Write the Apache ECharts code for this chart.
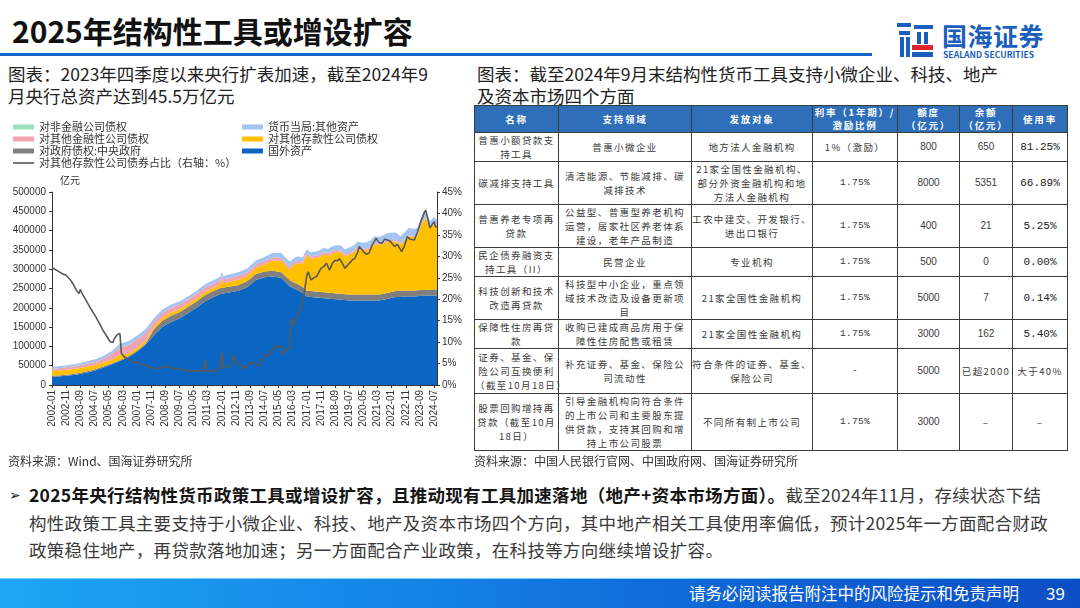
<!DOCTYPE html>
<html><head><meta charset="utf-8">
<script src="https://cdn.jsdelivr.net/npm/echarts@6/dist/echarts.min.js"></script>
<style>
html,body{margin:0;padding:0;width:1080px;height:608px;overflow:hidden;background:#fff;font-family:"Noto Sans CJK SC","Noto Sans",sans-serif;}
.abs{position:absolute;white-space:nowrap;}
#title{left:12px;top:10px;font-size:30px;font-weight:bold;color:#111;line-height:40px;}
#rule{left:0;top:53px;width:872px;height:3px;background:#1565c8;}
#brand{left:942px;top:19px;font-size:25px;font-weight:bold;color:#1b5fbe;line-height:32px;letter-spacing:0.5px;}
#brand2{left:943px;top:49px;font-size:8.6px;font-weight:bold;color:#1b5fbe;line-height:10px;}
.sub{font-size:17.5px;color:#222;line-height:22px;}
#subL{left:8px;top:63px;}
#subR{left:477px;top:63px;}
.src{font-size:12px;color:#333;line-height:16px;}
#chart{position:absolute;left:0;top:110px;width:470px;height:350px;}
table{position:absolute;left:474px;top:105px;border-collapse:collapse;table-layout:fixed;width:593px;}
td,th{border:1px solid #3c3c3c;padding:0;text-align:center;vertical-align:middle;white-space:pre;overflow:visible;font-size:9.5px;line-height:14px;letter-spacing:1.4px;color:#3a3a3a;font-weight:normal;}
th{background:#2f6fba;color:#fff;font-weight:bold;line-height:13px;letter-spacing:1.8px;}
td.num{font-family:"Liberation Sans",Arial,sans-serif;font-size:10px;letter-spacing:0;}
td.mono{font-family:"Liberation Mono",monospace;font-size:9.5px;letter-spacing:0.3px;}
td.use{font-family:"Liberation Mono",monospace;font-size:11px;letter-spacing:0;color:#222;}
#para{left:29px;top:481px;font-size:17.5px;line-height:27.5px;color:#3a3a3a;letter-spacing:0.3px;}
#para b{color:#151515;}
#bullet{left:9px;top:484px;font-size:14px;color:#222;}
#footer{left:0;top:578px;width:1080px;height:30px;background:linear-gradient(90deg,#1ea6f3 0%,#1487e8 35%,#0f63d4 70%,#0c4fc4 100%);border-top:1px solid #7fd0ff;}
#foot1{left:689px;top:582px;font-size:16.5px;color:#fff;line-height:22px;}
#foot2{left:1046px;top:582px;font-size:17px;color:#fff;line-height:22px;}
</style></head>
<body>
<div class="abs" id="title">2025年结构性工具或增设扩容</div>
<div class="abs" id="rule"></div>
<svg class="abs" style="left:897px;top:22px" width="38" height="36" viewBox="0 0 38 36">
  <rect x="0" y="1" width="14" height="4" fill="#1b5fbe"/>
  <rect x="17" y="3" width="19" height="4" fill="#1b5fbe"/>
  <rect x="2" y="9" width="11" height="4" fill="#1b5fbe"/>
  <rect x="3" y="15" width="4" height="20" fill="#1b5fbe"/>
  <rect x="9" y="15" width="4" height="20" fill="#1b5fbe"/>
  <rect x="20" y="10" width="4" height="12" fill="#1b5fbe"/>
  <rect x="27" y="10" width="4" height="12" fill="#1b5fbe"/>
  <rect x="15" y="23" width="21" height="5" fill="#e0262b"/>
  <rect x="15" y="30" width="21" height="5" fill="#1b5fbe"/>
</svg>
<div class="abs" id="brand">国海证券</div>
<div class="abs" id="brand2">SEALAND SECURITIES</div>
<div class="abs sub" id="subL">图表：2023年四季度以来央行扩表加速，截至2024年9<br>月央行总资产达到45.5万亿元</div>
<div class="abs sub" id="subR">图表：截至2024年9月末结构性货币工具支持小微企业、科技、地产<br>及资本市场四个方面</div>
<div id="chart"></div>
<div class="abs src" style="left:8px;top:453px;">资料来源：Wind、国海证券研究所</div>
<table id="tbl"></table>
<div class="abs src" style="left:474px;top:453px;">资料来源：中国人民银行官网、中国政府网、国海证券研究所</div>
<div class="abs" id="bullet">➢</div>
<div class="abs" id="para"><b>2025年央行结构性货币政策工具或增设扩容，且推动现有工具加速落地（地产+资本市场方面）。</b>截至2024年11月，存续状态下结<br>构性政策工具主要支持于小微企业、科技、地产及资本市场四个方向，其中地产相关工具使用率偏低，预计2025年一方面配合财政<br>政策稳住地产，再贷款落地加速；另一方面配合产业政策，在科技等方向继续增设扩容。</div>
<div class="abs" id="footer"></div>
<div class="abs" id="foot1">请务必阅读报告附注中的风险提示和免责声明</div>
<div class="abs" id="foot2">39</div>
<script>
// ---------- chart data (亿元), x = month index from 2002-01 ----------
const tickLabels = ['2002-01','2002-11','2003-09','2004-07','2005-05','2006-03','2007-01','2007-11','2008-09','2009-07','2010-05','2011-03','2012-01','2012-11','2013-09','2014-07','2015-05','2016-03','2017-01','2017-11','2018-09','2019-07','2020-05','2021-03','2022-01','2022-11','2023-09','2024-07'];
const monthIdx = [0,6,12,18,24,30,36,42,48,54,60,66,72,78,84,90,96,102,108,114,119,120,121,126,132,138,144,150,156,162,168,171,174,177,180,183,186,189,192,195,198,201,204,207,210,213,216,219,222,225,228,231,234,237,240,243,246,249,252,255,258,261,264,267,270,272];
const foreignAssets = [21000,22500,24500,27500,32000,37000,45000,53000,62000,72000,86000,104000,128000,150000,163000,172000,186000,200000,216000,228000,236000,237000,237000,240000,244000,254000,272000,279000,281000,277000,256000,250000,245000,239000,229000,228000,227000,226000,225000,224000,223000,222000,221000,220000,219000,219000,219000,219000,219000,219000,219000,219000,221000,223000,226000,228000,228000,229000,229000,229000,230000,231000,231000,232000,232000,232000];
const govClaims = [2900,2900,2900,2900,2900,2900,2900,2900,2900,2900,2900,2900,16300,16300,16300,16300,16300,16300,16300,15300,15300,15300,15300,15300,15300,15300,15300,15300,15300,15300,15300,15300,15300,15300,15300,15300,15300,15300,15300,15300,15300,15300,15300,15300,15300,15300,15300,15300,15300,15300,15300,15300,15300,15300,15300,15300,15300,15300,15300,15300,15300,15300,15300,15300,15300,15300];
const odcClaims = [12300,12600,12900,12100,12200,11200,10200,9100,12500,7000,6800,7000,6800,8000,8700,8200,7500,7900,8800,8800,9800,22800,11000,12300,13900,13200,15900,18200,26400,29700,27400,46200,56000,59000,91000,83300,86500,89600,97900,95800,103200,106700,107700,97900,103700,108000,119000,114500,115000,119700,131200,127500,130000,132500,130000,128600,121000,129400,141200,139400,139300,170200,186500,159600,169500,163500];
const ofcClaims = [5500,6000,6500,7000,7500,8000,9000,15000,20500,22000,22000,20000,13000,12500,12000,11800,11600,11400,11300,11000,10700,10700,10700,10400,10000,9500,8900,8300,7800,7200,6600,6500,6500,6500,6300,6300,6300,6300,6000,6000,6000,6000,4700,4700,4700,4700,4700,4600,4600,4600,4600,4600,4400,4400,4400,4400,2100,2100,2100,2100,2100,2000,2000,2000,2000,2000];
const nfcClaims = [150,150,150,150,150,150,150,150,150,150,150,150,50,50,50,50,50,50,50,50,50,50,50,50,50,50,50,50,50,50,50,50,50,50,50,50,50,50,50,50,50,50,50,50,50,50,50,50,50,50,50,50,50,50,50,50,50,50,50,50,50,50,50,50,50,50];
const otherAssets = [4500,4800,5000,5500,6000,6500,7000,7500,8500,9500,10000,10500,9000,8500,8000,8000,8000,8000,8500,8500,8500,8500,8500,9000,9500,10000,10500,11000,12000,13000,14000,11000,11000,10500,10000,10000,10500,11000,11000,11500,12000,12000,13000,13000,13500,14000,14000,15000,15500,16000,16000,16500,17500,18000,18500,18500,19000,19000,19000,19000,18500,17000,16500,16000,16000,16000];
// ratio line: [month index, %]
const odcShare = [[0,27.4],[2,27],[4,26.6],[7,26],[10,25.6],[13,24.5],[15,23.5],[17,22.2],[19,21.3],[20,22.3],[21,21.5],[24,19.8],[27,18],[31,15.9],[34,14],[36,12.8],[39,11.2],[41,10.1],[43,9.9],[44,10.8],[46,11.7],[48,12],[49,7.4],[51,6.6],[53,6.2],[56,5.6],[58,5.4],[62,5],[65,4.7],[69,4.2],[72,3.9],[74,3.8],[76,4],[78,4.2],[81,4.3],[84,4.1],[86,3.7],[88,3.9],[90,3.8],[93,3.5],[95,3.3],[100,3.3],[104,3.3],[107,3.3],[108,5.8],[109,3.3],[112,3.3],[116,3.3],[118,3.6],[119,3.5],[120,7.8],[121,3.9],[124,4.4],[126,4.3],[128,7],[130,5.5],[133,4.7],[136,3.9],[139,4.6],[141,5.4],[144,4.9],[146,4.4],[148,5.8],[150,7],[153,6.8],[155,7.8],[158,9.3],[160,8.8],[162,9],[163,7],[165,8.2],[168,8.5],[169,15.5],[171,14],[173,16],[175,17],[176,16.7],[178,21],[180,25.5],[181,26.4],[183,24.5],[185,25],[187,25.3],[188,25.6],[190,27.2],[192,27.6],[194,28.4],[196,26.8],[198,28.3],[200,29.1],[202,29],[203,29.5],[205,28.5],[207,27.2],[209,28],[212,29.1],[214,29.6],[216,31],[217,32.3],[219,31.6],[220,31.1],[222,30.5],[224,30.7],[226,32.5],[229,34.2],[231,33.2],[233,33],[235,34],[237,33.8],[239,33.5],[242,32.3],[244,32.8],[247,31.1],[249,32.4],[251,34.6],[253,34],[256,33.8],[258,35.5],[261,38.5],[263,40.2],[264,40.8],[265,39.5],[267,36.6],[268,37],[270,38.1],[271,36.8],[272,37]];

// ---------- table data ----------
const tblHeader = ['名称','支持领域','发放对象','利率（1年期）/\n激励比例','额度\n（亿元）','余额\n（亿元）','使用率'];
const toolNames = ['普惠小额贷款支\n持工具','碳减排支持工具','普惠养老专项再\n贷款','民企债券融资支\n持工具（II）','科技创新和技术\n改造再贷款','保障性住房再贷\n款','证券、基金、保\n险公司互换便利\n（截至10月18日）','股票回购增持再\n贷款（截至10月\n18日）'];
const supportFields = ['普惠小微企业','清洁能源、节能减排、碳\n减排技术','公益型、普惠型养老机构\n运营，居家社区养老体系\n建设，老年产品制造','民营企业','科技型中小企业，重点领\n域技术改造及设备更新项\n目','收购已建成商品房用于保\n障性住房配售或租赁','补充证券、基金、保险公\n司流动性','引导金融机构向符合条件\n的上市公司和主要股东提\n供贷款，支持其回购和增\n持上市公司股票'];
const targets = ['地方法人金融机构','21家全国性金融机构、\n部分外资金融机构和地\n方法人金融机构','工农中建交、开发银行、\n进出口银行','专业机构','21家全国性金融机构','21家全国性金融机构','符合条件的证券、基金、\n保险公司','不同所有制上市公司'];
const rates = ['1%（激励）','1.75%','1.75%','1.75%','1.75%','1.75%','-','1.75%'];
const quotas = ['800','8000','400','500','5000','3000','5000','3000'];
const balances = ['650','5351','21','0','7','162','已超2000','–'];
const usageRates = ['81.25%','66.89%','5.25%','0.00%','0.14%','5.40%','大于40%','–'];

// build table
(function(){
  const colW=[84,133,121,85,62,53,55];
  const rowH=[27,28,42,42,26,42,29,45,56];
  const t=document.getElementById('tbl');
  let h='<colgroup>'+colW.map(w=>'<col style="width:'+w+'px">').join('')+'</colgroup>';
  h+='<tr style="height:'+rowH[0]+'px">'+tblHeader.map(s=>'<th>'+s+'</th>').join('')+'</tr>';
  for(let r=0;r<toolNames.length;r++){
    h+='<tr style="height:'+rowH[r+1]+'px">';
    h+='<td>'+toolNames[r]+'</td><td>'+supportFields[r]+'</td><td>'+targets[r]+'</td>';
    h+='<td class="'+(r===0?'':'mono')+'">'+rates[r]+'</td>';
    h+='<td class="num">'+quotas[r]+'</td>';
    h+='<td class="'+(/^[0-9]+$/.test(balances[r])?'num':'')+'">'+balances[r]+'</td>';
    h+='<td class="'+(/%$/.test(usageRates[r])&&/^[0-9]/.test(usageRates[r])?'use':'')+'">'+usageRates[r]+'</td>';
    h+='</tr>';
  }
  t.innerHTML=h;
})();

// ---------- chart ----------
const tickIdx = tickLabels.map(s=>{const p=s.split('-');return (+p[0]-2002)*12+(+p[1]-1);});
const labelOf = {}; tickIdx.forEach((v,k)=>labelOf[v]=tickLabels[k]);
// value first, month second, so the library stacks the value dimension
const pairs = arr => monthIdx.map((x,k)=>[arr[k],x]);
const areaDefs = [
  {name:'国外资产', data:foreignAssets, color:'#0a66c2'},
  {name:'对政府债权:中央政府', data:govClaims, color:'#7f7f7f'},
  {name:'对其他存款性公司债权', data:odcClaims, color:'#ffc000'},
  {name:'对其他金融性公司债权', data:ofcClaims, color:'#f2a3b1'},
  {name:'对非金融公司债权', data:nfcClaims, color:'#9fdfbd'},
  {name:'货币当局:其他资产', data:otherAssets, color:'#a3c3f0'}
];
const series = areaDefs.map(d=>({
  name:d.name, type:'line', stack:'total', data:pairs(d.data), encode:{x:1, y:0},
  showSymbol:false, symbol:'none', lineStyle:{width:0}, itemStyle:{color:d.color},
  areaStyle:{color:d.color, opacity:1}, emphasis:{disabled:true}, silent:true, z:2
}));
series.push({
  name:'对其他存款性公司债券占比（右轴：%）', type:'line', yAxisIndex:1, data:odcShare,
  showSymbol:false, symbol:'none', lineStyle:{width:1.6, color:'#595959'}, itemStyle:{color:'#595959'}, z:5, silent:true
});
const chart = echarts.init(document.getElementById('chart'), null, {renderer:'canvas'});
const lgText = {fontSize:11, lineHeight:12, color:'#333', fontFamily:'Noto Sans CJK SC'};
const axLbl = {fontSize:10, color:'#333', fontFamily:'Liberation Sans, Arial'};
chart.setOption({
  animation:false,
  textStyle:{fontFamily:'Noto Sans CJK SC'},
  legend:[
    {orient:'vertical', left:13, top:11, padding:0, itemGap:0, itemWidth:21, itemHeight:5, icon:'rect', textStyle:lgText, selectedMode:false,
     data:['对非金融公司债权','对其他金融性公司债权','对政府债权:中央政府']},
    {orient:'vertical', left:13, top:47, padding:0, itemGap:0, itemWidth:21, itemHeight:1.6, icon:'rect', textStyle:lgText, selectedMode:false,
     data:['对其他存款性公司债券占比（右轴：%）']},
    {orient:'vertical', left:242, top:11, padding:0, itemGap:0, itemWidth:21, itemHeight:5, icon:'rect', textStyle:lgText, selectedMode:false,
     data:['货币当局:其他资产','对其他存款性公司债权','国外资产']}
  ],
  graphic:[{type:'text', left:60, top:65, style:{text:'亿元', fontSize:10, fill:'#333', fontFamily:'Noto Sans CJK SC'}}],
  grid:{left:52, right:33, top:82, bottom:75},
  xAxis:{type:'value', min:0, max:272,
    axisLine:{show:true, lineStyle:{color:'#333', width:1}},
    axisTick:{show:true, customValues:tickIdx, length:3, lineStyle:{color:'#333'}},
    axisLabel:Object.assign({}, axLbl, {customValues:tickIdx, rotate:90, margin:5, formatter:v=>labelOf[v]||''}),
    splitLine:{show:false}},
  yAxis:[
    {type:'value', min:0, max:500000, interval:50000,
     axisLine:{show:true, lineStyle:{color:'#333'}}, axisTick:{show:true, length:3, lineStyle:{color:'#333'}},
     axisLabel:Object.assign({}, axLbl, {margin:6, formatter:v=>String(v)}), splitLine:{show:false}},
    {type:'value', min:0, max:45, interval:5, position:'right',
     axisLine:{show:true, lineStyle:{color:'#333'}}, axisTick:{show:true, length:3, lineStyle:{color:'#333'}},
     axisLabel:Object.assign({}, axLbl, {margin:5, formatter:'{value}%'}), splitLine:{show:false}}
  ],
  series:series
});
</script>
</body></html>
